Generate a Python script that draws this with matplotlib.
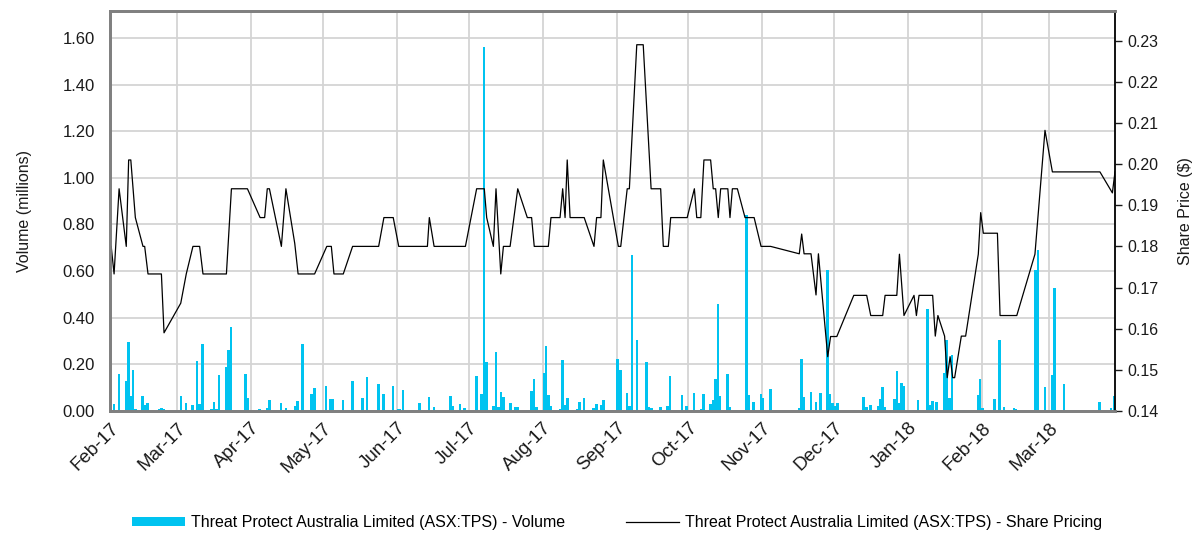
import pandas as pd
import matplotlib
matplotlib.use("Agg")
import matplotlib.pyplot as plt
import matplotlib.dates as mdates
import matplotlib.transforms as mtransforms
from matplotlib.ticker import FixedLocator, FormatStrFormatter

plt.rcParams['font.family'] = ['Liberation Sans', 'DejaVu Sans']

# days counted from 1 Feb 2017
start = pd.Timestamp('2017-02-01')

# share price line, turning points (day, $)
price_day = [0.5, 1.7, 3.8, 6.8, 7.8, 8.7, 10.6, 13.8, 14.5, 15.9, 21.5, 22.6, 29.6, 31.9,
             34.7, 37.5, 38.9, 48.7, 50.8, 57.5, 62.8, 64.7, 65.8, 66.7, 71.7, 73.6, 77.3,
             78.7, 85.6, 90.7, 92.6, 93.7, 97.6, 101.5, 112.4, 114.6, 118.5, 120.8, 132.8,
             133.6, 135.6, 148.7, 153.4, 156.6, 157.6, 160.4, 161.5, 163.5, 164.6, 167.4,
             170.6, 174.6, 176.4, 177.5, 183.4, 184.5, 188.3, 189.4, 190.4, 191.3, 192.5,
             198.4, 202.5, 203.6, 205.4, 206.4, 212.7, 213.7, 216.4, 217.3, 220.4, 223.1,
             226.4, 230.4, 231.5, 233.6, 234.6, 241.5, 244.5, 245.5, 247.2, 248.5, 251.3,
             252.4, 253.4, 254.5, 255.5, 258.5, 259.4, 260.4, 262.5, 265.7, 269.5, 272.4,
             276.4, 288.4, 289.4, 290.4, 293.3, 295.4, 296.4, 300.3, 301.5, 304.1, 311.2,
             316.6, 318.3, 323.3, 324.3, 329.2, 330.3, 332.2, 336.4, 337.4, 338.5, 344.2,
             345.3, 346.4, 349.2, 350.3, 351.5, 352.6, 353.4, 356.2, 358.0, 363.3, 364.3,
             365.4, 371.3, 372.4, 379.4, 387.0, 391.2, 394.3, 414.2, 419.4, 420.5]
price_val = [0.180, 0.1733, 0.194, 0.180, 0.201, 0.201, 0.187, 0.180, 0.180, 0.1733, 0.1733,
             0.159, 0.1662, 0.1733, 0.180, 0.180, 0.1733, 0.1733, 0.194, 0.194, 0.187, 0.187,
             0.194, 0.194, 0.180, 0.194, 0.1807, 0.1733, 0.1733, 0.180, 0.180, 0.1733, 0.1733,
             0.180, 0.180, 0.187, 0.187, 0.180, 0.180, 0.187, 0.180, 0.180, 0.194, 0.194,
             0.187, 0.180, 0.194, 0.1733, 0.180, 0.180, 0.194, 0.187, 0.187, 0.180, 0.180,
             0.187, 0.187, 0.194, 0.187, 0.201, 0.187, 0.187, 0.180, 0.187, 0.187, 0.201,
             0.180, 0.180, 0.194, 0.194, 0.229, 0.229, 0.194, 0.194, 0.180, 0.180, 0.187,
             0.187, 0.194, 0.187, 0.187, 0.201, 0.201, 0.194, 0.194, 0.187, 0.194, 0.194,
             0.187, 0.194, 0.194, 0.187, 0.187, 0.180, 0.180, 0.1782, 0.1830, 0.1782, 0.1782,
             0.1682, 0.1782, 0.1532, 0.1581, 0.1581, 0.1681, 0.1681, 0.1632, 0.1632, 0.1681,
             0.1681, 0.1781, 0.1632, 0.1681, 0.1632, 0.1681, 0.1681, 0.1582, 0.1632, 0.1582,
             0.1481, 0.1532, 0.1481, 0.1481, 0.1582, 0.1582, 0.1781, 0.1882, 0.1832, 0.1832,
             0.1632, 0.1632, 0.1781, 0.2082, 0.1981, 0.1981, 0.1930, 0.1981]

# traded volume (millions)
vol_day = [0.5, 1.7, 3.8, 6.6, 7.7, 8.5, 9.6, 10.7, 13.7, 14.6, 15.6, 20.6, 21.6, 22.6, 29.6,
           31.7, 34.6, 36.4, 37.5, 38.6, 42.4, 43.5, 44.5, 45.6, 48.5, 49.5, 50.6,
           56.6, 57.6, 62.5, 64.4, 65.6, 66.7, 71.5, 73.6, 77.4, 78.5, 80.6, 84.4, 85.5,
           90.4, 92.3, 93.4, 97.5, 101.4,
           105.6, 107.5, 112.4, 114.4, 118.4, 120.4, 121.3, 122.5, 126.6, 129.4, 133.5,
           135.6, 136.5, 142.4, 143.5, 146.4, 148.4, 153.3, 155.4, 156.5, 157.6,
           160.4, 161.6, 162.5, 163.5, 164.6, 167.5, 169.5, 170.6, 174.6, 176.4, 177.5,
           178.5, 181.5, 182.4, 183.5, 184.5, 188.4, 189.4, 190.5, 191.5, 195.4, 196.4,
           198.4, 202.4, 203.5, 205.4, 206.4, 210.3,
           212.4, 213.5, 216.4, 217.4, 218.4, 220.5, 223.4, 224.4, 225.4, 226.5, 230.4,
           231.4, 233.3, 234.3, 239.3, 241.3, 244.4, 246.3, 247.3, 248.3, 251.2, 252.2,
           253.3, 254.3, 255.2, 258.3, 259.3, 262.2,
           265.3, 266.4, 267.4, 269.3, 272.3, 273.3, 276.3, 288.3, 289.3, 290.4, 293.3,
           295.3, 296.2, 297.2, 300.1, 301.3, 302.2, 303.2, 304.3, 311.3, 315.3,
           316.6, 318.3, 321.3, 322.3, 323.3, 324.3, 328.3, 329.2, 330.1, 331.1, 332.2,
           336.1, 337.1, 338.1, 342.0, 343.1, 344.1, 345.9, 349.1, 350.1, 351.2, 352.2,
           356.4, 357.3, 363.2, 364.1, 365.1,
           370.0, 371.0, 372.1, 374.1, 378.2, 379.1, 387.2, 388.3, 391.2, 394.1, 395.1,
           398.0, 399.2, 414.1, 418.9, 420.1]
vol_val = [0.01, 0.03, 0.157, 0.13, 0.294, 0.064, 0.176, 0.01, 0.066, 0.026, 0.036, 0.01,
           0.014, 0.01, 0.064, 0.033, 0.026, 0.214, 0.03, 0.286, 0.01, 0.039, 0.01, 0.154,
           0.19, 0.26, 0.361,
           0.159, 0.054, 0.01, 0.004, 0.014, 0.047, 0.033, 0.011, 0.02, 0.043, 0.286, 0.073,
           0.097, 0.107, 0.053, 0.053, 0.047, 0.129,
           0.057, 0.144, 0.116, 0.073, 0.107, 0.007, 0.007, 0.09, 0.004, 0.033, 0.061, 0.019,
           0.006, 0.066, 0.021, 0.03, 0.011, 0.15, 0.071, 1.561, 0.209,
           0.021, 0.254, 0.019, 0.083, 0.061, 0.033, 0.019, 0.016, 0.004, 0.087, 0.136,
           0.016, 0.164, 0.28, 0.069, 0.023, 0.008, 0.219, 0.026, 0.054, 0.007, 0.039,
           0.054, 0.011, 0.03, 0.026, 0.047, 0.006,
           0.223, 0.176, 0.079, 0.021, 0.667, 0.304, 0.004, 0.209, 0.016, 0.011, 0.019,
           0.006, 0.023, 0.15, 0.067, 0.021, 0.076, 0.006, 0.01, 0.071, 0.03, 0.047, 0.136,
           0.459, 0.064, 0.157, 0.017, 0.006,
           0.006, 0.84, 0.069, 0.037, 0.071, 0.057, 0.094, 0.014, 0.221, 0.059, 0.08, 0.037,
           0.006, 0.079, 0.604, 0.071, 0.033, 0.021, 0.036, 0.006, 0.061,
           0.019, 0.026, 0.021, 0.05, 0.104, 0.019, 0.05, 0.171, 0.036, 0.119, 0.109, 0.006,
           0.004, 0.047, 0.437, 0.026, 0.043, 0.04, 0.164, 0.304, 0.054, 0.24, 0.004, 0.004,
           0.069, 0.136, 0.011,
           0.05, 0.004, 0.304, 0.019, 0.014, 0.008, 0.604, 0.69, 0.101, 0.154, 0.529, 0.004,
           0.114, 0.04, 0.011, 0.064]

vol_label = 'Threat Protect Australia Limited (ASX:TPS) - Volume'
price_label = 'Threat Protect Australia Limited (ASX:TPS) - Share Pricing'

price_dates = start + pd.to_timedelta(price_day, unit='D')
vol_dates = start + pd.to_timedelta(vol_day, unit='D')

fig = plt.figure(figsize=(12.01, 5.36), dpi=100)
ax = fig.add_axes([0.0916, 0.2332, 0.8368, 0.7463])
ax2 = ax.twinx()

bars = ax.bar(vol_dates, vol_val, width=1.05, color='#00C3F0', label=vol_label, zorder=2)
line, = ax2.plot(price_dates, price_val, color='black', lw=0.9, label=price_label)

ax.set_xlim(start, start + pd.Timedelta(days=420.5))
ax.set_ylim(0, 1.7155)
ax2.set_ylim(0.14, 0.2372)

ax.yaxis.set_major_locator(FixedLocator([0, 0.2, 0.4, 0.6, 0.8, 1.0, 1.2, 1.4, 1.6]))
ax.yaxis.set_major_formatter(FormatStrFormatter('%.2f'))
ax2.yaxis.set_major_locator(FixedLocator([0.14, 0.15, 0.16, 0.17, 0.18, 0.19, 0.20, 0.21, 0.22, 0.23]))
ax2.yaxis.set_major_formatter(FormatStrFormatter('%.2f'))

ax.xaxis.set_major_locator(mdates.MonthLocator())
ax.xaxis.set_major_formatter(mdates.DateFormatter('%b-%y'))
shift = mtransforms.ScaledTranslation(-6 / 100, 0, fig.dpi_scale_trans)
for lab in ax.get_xticklabels():
    lab.set_rotation(45)
    lab.set_ha('right')
    lab.set_rotation_mode('anchor')
    lab.set_transform(lab.get_transform() + shift)

ax.grid(True, color='#d4d4d4', lw=1.3)
ax.set_axisbelow(True)

txt = '#1a1a1a'
ax.tick_params(axis='y', length=0, labelsize=12, colors=txt, pad=11)
ax.tick_params(axis='x', length=0, labelsize=13.5, colors=txt, pad=6)
ax2.tick_params(axis='y', length=5, width=1, labelsize=11.5, colors=txt, pad=4)

for s in ['left', 'top', 'bottom']:
    ax.spines[s].set_color('#808080')
    ax.spines[s].set_linewidth(2)
    ax2.spines[s].set_color('#808080')
    ax2.spines[s].set_linewidth(2)
ax2.spines['right'].set_color('black')
ax2.spines['right'].set_linewidth(1.3)
ax.spines['right'].set_visible(False)

ax.set_ylabel('Volume (millions)', fontsize=11.5, color=txt, labelpad=22)
ax2.set_ylabel('Share Price ($)', fontsize=11.5, color=txt, labelpad=14)

fig.legend(handles=[bars, line], labels=[vol_label, price_label], loc='lower center',
           bbox_to_anchor=(0.514, -0.016), ncol=2, frameon=False, fontsize=11.5,
           handlelength=3.3, handleheight=0.45, columnspacing=3.8, handletextpad=0.4)

fig.savefig('out.png', dpi=100)
